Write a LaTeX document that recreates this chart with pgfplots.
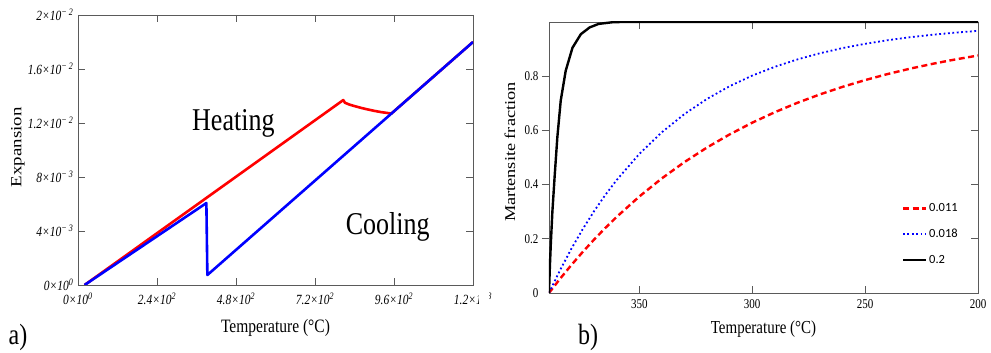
\documentclass[border=0pt]{standalone}
\usepackage{pgfplots}
\pgfplotsset{compat=1.18}
\usepackage{fontspec}
\setmainfont{Liberation Serif}
\newfontfamily\legfont{Carlito}
\usepackage{graphicx}
\newcommand{\vs}[1]{\scalebox{1}[1.22]{#1}}
\newcommand{\hs}[1]{\scalebox{1.22}[1]{#1}}
\newcommand{\tl}[2]{\vs{\itshape #1×10\textsuperscript{#2}}}
\definecolor{framec}{HTML}{5A5A5A}
\begin{document}
\begin{tikzpicture}
\useasboundingbox (0,0) rectangle (991pt,353pt);
% ---------- (a) ----------
\begin{axis}[
  at={(78pt,68pt)}, anchor=south west,
  scale only axis, width=395pt, height=270pt,
  xmin=0, xmax=1200, ymin=0, ymax=0.02,
  scaled ticks=false,
  xtick={0,240,480,720,960,1200},
  xticklabels={\tl{0}{0},\tl{2.4}{2},\tl{4.8}{2},\tl{7.2}{2},\tl{9.6}{2},\tl{1.2}{3}},
  ytick={0,0.004,0.008,0.012,0.016,0.02},
  yticklabels={\tl{0}{0},\tl{4}{− 3},\tl{8}{− 3},\tl{1.2}{− 2},\tl{1.6}{− 2},\tl{2}{− 2}},
  tick align=inside, major tick length=7pt,
  axis line style={framec, line width=0.8pt},
  tick style={framec, line width=0.8pt},
  ticklabel style={font=\fontsize{11.5}{12}\selectfont},
  xticklabel style={yshift=-4pt},
  yticklabel style={xshift=-1pt},
  xlabel={\vs{Temperature (°C)}},
  ylabel={\hs{Expansion}},
  label style={font=\fontsize{15.5}{16}\selectfont},
  xlabel style={at={(axis description cs:0.5,-0.159)}, anchor=center},
  ylabel style={at={(axis description cs:-0.152,0.51)}, anchor=center},
]
\addplot[red, line width=2.6pt, line join=round] coordinates {
 (20,0) (806,0.01370) (811,0.01350) (825,0.01336) (839,0.01326) (860,0.01312)
 (879,0.01301) (900,0.01290) (920,0.01281) (952,0.01270) (1200,0.01800)
};
\addplot[blue, line width=2.6pt, line join=round] coordinates {
 (20,0) (390,0.00607) (393,0.00074) (1200,0.01800)
};
\node[font=\fontsize{26}{26}\selectfont] at (axis cs:472,0.0120) {\vs{Heating}};
\node[font=\fontsize{26}{26}\selectfont] at (axis cs:941,0.0043) {\vs{Cooling}};
\end{axis}
\fill[white] (479pt,38pt) rectangle (489pt,66pt);
% ---------- (b) ----------
\begin{axis}[
  at={(549pt,60pt)}, anchor=south west,
  scale only axis, width=429pt, height=271pt,
  xmin=200, xmax=390, x dir=reverse, ymin=0, ymax=1,
  xtick={200,250,300,350},
  xticklabels={\vs{200},\vs{250},\vs{300},\vs{350}},
  ytick={0,0.2,0.4,0.6,0.8},
  yticklabels={\vs{0},\vs{0.2},\vs{0.4},\vs{0.6},\vs{0.8}},
  ytick pos=right, yticklabel pos=left,
  tick align=inside, major tick length=7pt,
  axis line style={framec, line width=0.8pt},
  tick style={framec, line width=0.8pt},
  ticklabel style={font=\fontsize{11}{12}\selectfont},
  xticklabel style={yshift=-3pt},
  yticklabel style={xshift=-7pt},
  xlabel={\vs{Temperature (°C)}},
  ylabel={\hs{Martensite fraction}},
  label style={font=\fontsize{15}{16}\selectfont},
  xlabel style={at={(axis description cs:0.5,-0.133)}, anchor=center},
  ylabel style={at={(axis description cs:-0.091,0.52)}, anchor=center},
  legend style={draw=none, fill=none, at={(rel axis cs:0.822,0.338)}, anchor=north west,
    font=\legfont\fontsize{12.5}{13}\selectfont, row sep=12pt, inner sep=0pt,
    cells={anchor=west}},
  legend image code/.code={\draw[#1] (0pt,0pt) -- (23pt,0pt);},
]
\addplot[red, line width=2.4pt, dash pattern=on 6pt off 3.5pt] coordinates {
 (390,0) (385,0.0535) (380,0.1042) (375,0.1521) (370,0.1975) (365,0.2404) (360,0.2811)
 (350,0.3560) (340,0.4231) (330,0.4832) (320,0.5370) (310,0.5852) (300,0.6284)
 (290,0.6671) (280,0.7018) (270,0.7329) (260,0.7607) (250,0.7856) (240,0.8080)
 (230,0.8280) (220,0.8459) (210,0.8619) (200,0.8763)
};
\addlegendentry{0.011}
\addplot[blue, line width=1.8pt, dash pattern=on 1.8pt off 2.6pt] coordinates {
 (390,0) (385,0.0861) (380,0.1647) (375,0.2366) (370,0.3023) (365,0.3624) (360,0.4172)
 (350,0.5132) (340,0.5934) (330,0.6604) (320,0.7163) (310,0.7631) (300,0.8021)
 (290,0.8347) (280,0.8619) (270,0.8847) (260,0.9037) (250,0.9195) (240,0.9328)
 (230,0.9439) (220,0.9531) (210,0.9608) (200,0.9673)
};
\addlegendentry{0.018}
\addplot[black, line width=2.4pt, line join=round] coordinates {
 (390,0) (389.6,0.10) (389.2,0.18) (388.5,0.30) (387.5,0.43) (386.3,0.575)
 (384.8,0.71) (382.6,0.82) (379.6,0.905) (375.9,0.955) (372,0.98) (368,0.993)
 (362,0.999) (358,1) (200,1)
};
\addlegendentry{0.2}
\end{axis}
\begin{axis}[
  at={(549pt,60pt)}, anchor=south west,
  scale only axis, width=429pt, height=271pt,
  xmin=200, xmax=390, x dir=reverse, ymin=0, ymax=1,
  xtick=\empty, ytick={0.2,0.4,0.6,0.8}, yticklabels={},
  ytick pos=left, tick align=outside, major tick length=7pt,
  axis line style={draw=none},
  tick style={framec, line width=0.8pt},
]
\end{axis}
\node[font=\fontsize{24}{24}\selectfont] at (18pt,16pt) {\vs{a)}};
\node[font=\fontsize{24}{24}\selectfont] at (588pt,16pt) {\vs{b)}};
\end{tikzpicture}
\end{document}
